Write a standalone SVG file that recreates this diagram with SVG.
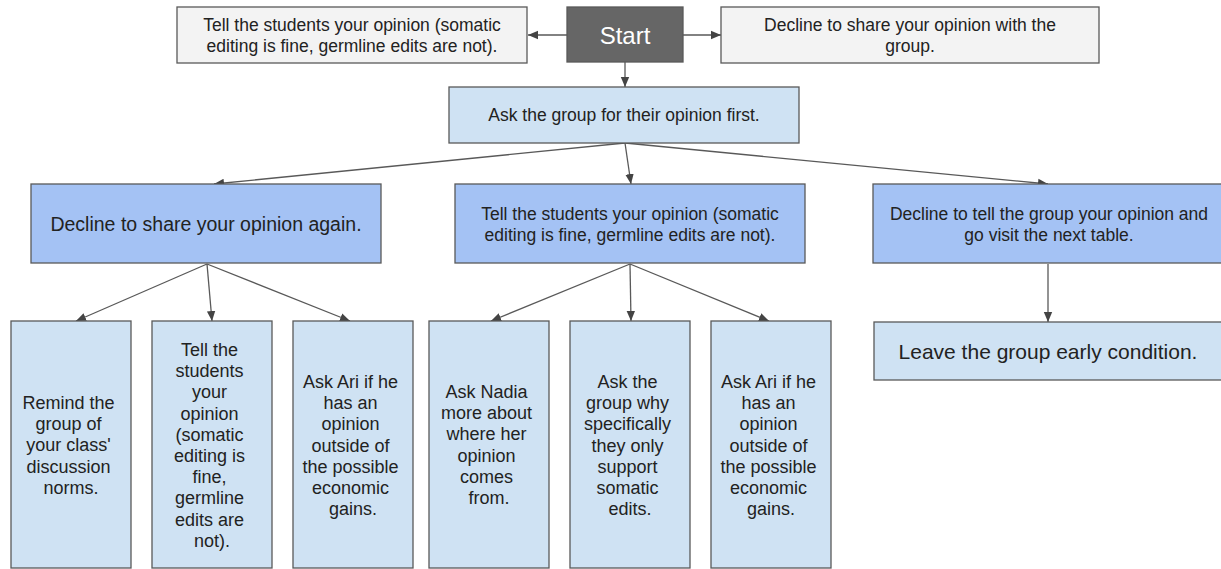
<svg xmlns="http://www.w3.org/2000/svg" width="1221" height="569" viewBox="0 0 1221 569">
  <style>
    .box { stroke: #595959; stroke-width: 1.3; }
    .grey { fill: #f3f3f3; }
    .dark { fill: #666666; }
    .light { fill: #cfe2f3; }
    .mid { fill: #a4c2f4; }
    text { font-family: "Liberation Sans", Arial, sans-serif; font-size: 17.5px; fill: #222222; text-anchor: middle; }
    .start { font-size: 24px; fill: #ffffff; }
    .big { font-size: 19.5px; }
    .leave { font-size: 21px; }
    .col { font-size: 18px; }
    .conn line { stroke: #595959; stroke-width: 1.3; fill: none; }
  </style>
  <defs>
    <marker id="arrow" viewBox="0 0 10 10" refX="10" refY="5" markerWidth="10" markerHeight="10" markerUnits="userSpaceOnUse" orient="auto">
      <path d="M0,0.8 L10,5 L0,9.2 Z" fill="#444444"/>
    </marker>
  </defs>
  <rect width="1221" height="569" fill="#ffffff"/>

  <!-- connectors -->
  <g id="connectors" class="conn">
    <line x1="567" y1="35" x2="528" y2="35" marker-end="url(#arrow)"/>
    <line x1="683" y1="35" x2="721" y2="35" marker-end="url(#arrow)"/>
    <line x1="625" y1="62" x2="625" y2="87" marker-end="url(#arrow)"/>
    <line x1="625" y1="143" x2="214" y2="184" marker-end="url(#arrow)"/>
    <line x1="625" y1="143" x2="631" y2="184" marker-end="url(#arrow)"/>
    <line x1="625" y1="143" x2="1048" y2="184" marker-end="url(#arrow)"/>
    <line x1="207" y1="264" x2="76" y2="321" marker-end="url(#arrow)"/>
    <line x1="207" y1="264" x2="212" y2="321" marker-end="url(#arrow)"/>
    <line x1="207" y1="264" x2="350" y2="321" marker-end="url(#arrow)"/>
    <line x1="630" y1="264" x2="491" y2="321" marker-end="url(#arrow)"/>
    <line x1="630" y1="264" x2="631" y2="321" marker-end="url(#arrow)"/>
    <line x1="630" y1="264" x2="769" y2="321" marker-end="url(#arrow)"/>
    <line x1="1048" y1="264" x2="1048" y2="322" marker-end="url(#arrow)"/>
  </g>

  <!-- top row -->
  <g id="tell-top">
    <rect class="box grey" x="177" y="7" width="350" height="56"/>
    <text x="352" y="31">Tell the students your opinion (somatic</text>
    <text x="352" y="52">editing is fine, germline edits are not).</text>
  </g>
  <g id="start">
    <rect class="box dark" x="567" y="7" width="116" height="55"/>
    <text class="start" x="625" y="44">Start</text>
  </g>
  <g id="decline-top">
    <rect class="box grey" x="721" y="7" width="378" height="56"/>
    <text x="910" y="31">Decline to share your opinion with the</text>
    <text x="910" y="52">group.</text>
  </g>

  <g id="ask-group">
    <rect class="box light" x="449" y="87" width="350" height="56"/>
    <text x="624" y="121">Ask the group for their opinion first.</text>
  </g>

  <!-- second row -->
  <g id="decline-again">
    <rect class="box mid" x="31" y="184" width="350" height="79"/>
    <text class="big" x="206" y="231">Decline to share your opinion again.</text>
  </g>
  <g id="tell-mid">
    <rect class="box mid" x="455" y="184" width="350" height="79"/>
    <text x="630" y="220">Tell the students your opinion (somatic</text>
    <text x="630" y="241">editing is fine, germline edits are not).</text>
  </g>
  <g id="decline-visit">
    <rect class="box mid" x="873" y="184" width="352" height="79"/>
    <text x="1049" y="220">Decline to tell the group your opinion and</text>
    <text x="1049" y="241">go visit the next table.</text>
  </g>

  <!-- third row -->
  <g id="remind">
    <rect class="box light" x="11" y="321" width="120" height="247"/>
    <text class="col" x="71">
      <tspan x="71" y="409">Remind the</tspan>
      <tspan x="71" y="430.2">group of</tspan>
      <tspan x="71" y="451.4">your class'</tspan>
      <tspan x="71" y="472.6">discussion</tspan>
      <tspan x="71" y="493.8">norms.</tspan>
    </text>
  </g>
  <g id="tell-low">
    <rect class="box light" x="152" y="321" width="120" height="247"/>
    <text class="col" x="212">
      <tspan x="212" y="356">Tell the</tspan>
      <tspan x="212" y="377.2">students</tspan>
      <tspan x="212" y="398.4">your</tspan>
      <tspan x="212" y="419.6">opinion</tspan>
      <tspan x="212" y="440.8">(somatic</tspan>
      <tspan x="212" y="462">editing is</tspan>
      <tspan x="212" y="483.2">fine,</tspan>
      <tspan x="212" y="504.4">germline</tspan>
      <tspan x="212" y="525.6">edits are</tspan>
      <tspan x="212" y="546.8">not).</tspan>
    </text>
  </g>
  <g id="ask-ari-1">
    <rect class="box light" x="293" y="321" width="120" height="247"/>
    <text class="col" x="353">
      <tspan x="353" y="388">Ask Ari if he</tspan>
      <tspan x="353" y="409.2">has an</tspan>
      <tspan x="353" y="430.4">opinion</tspan>
      <tspan x="353" y="451.6">outside of</tspan>
      <tspan x="353" y="472.8">the possible</tspan>
      <tspan x="353" y="494">economic</tspan>
      <tspan x="353" y="515.2">gains.</tspan>
    </text>
  </g>
  <g id="ask-nadia">
    <rect class="box light" x="429" y="321" width="120" height="247"/>
    <text class="col" x="489">
      <tspan x="489" y="398">Ask Nadia</tspan>
      <tspan x="489" y="419.2">more about</tspan>
      <tspan x="489" y="440.4">where her</tspan>
      <tspan x="489" y="461.6">opinion</tspan>
      <tspan x="489" y="482.8">comes</tspan>
      <tspan x="489" y="504">from.</tspan>
    </text>
  </g>
  <g id="ask-why">
    <rect class="box light" x="570" y="321" width="120" height="247"/>
    <text class="col" x="630">
      <tspan x="630" y="388">Ask the</tspan>
      <tspan x="630" y="409.2">group why</tspan>
      <tspan x="630" y="430.4">specifically</tspan>
      <tspan x="630" y="451.6">they only</tspan>
      <tspan x="630" y="472.8">support</tspan>
      <tspan x="630" y="494">somatic</tspan>
      <tspan x="630" y="515.2">edits.</tspan>
    </text>
  </g>
  <g id="ask-ari-2">
    <rect class="box light" x="711" y="321" width="120" height="247"/>
    <text class="col" x="771">
      <tspan x="771" y="388">Ask Ari if he</tspan>
      <tspan x="771" y="409.2">has an</tspan>
      <tspan x="771" y="430.4">opinion</tspan>
      <tspan x="771" y="451.6">outside of</tspan>
      <tspan x="771" y="472.8">the possible</tspan>
      <tspan x="771" y="494">economic</tspan>
      <tspan x="771" y="515.2">gains.</tspan>
    </text>
  </g>
  <g id="leave-early">
    <rect class="box light" x="874" y="322" width="350" height="58"/>
    <text class="leave" x="1048" y="359">Leave the group early condition.</text>
  </g>
</svg>
